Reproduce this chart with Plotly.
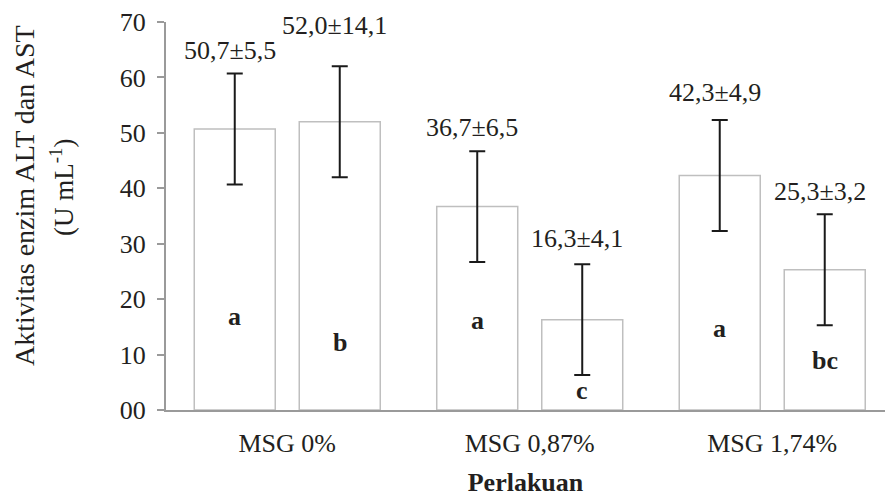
import plotly.graph_objects as go

# ---- data ----
categories = ["MSG 0%", "MSG 0,87%", "MSG 1,74%"]
alt_values = [50.7, 36.7, 42.3]
ast_values = [52.0, 16.3, 25.3]
alt_err = [10, 10, 10]
ast_err = [10, 10, 10]
alt_labels = ["50,7±5,5", "36,7±6,5", "42,3±4,9"]
ast_labels = ["52,0±14,1", "16,3±4,1", "25,3±3,2"]
alt_letters = ["a", "a", "a"]
ast_letters = ["b", "c", "bc"]
y_tickvals = [0, 10, 20, 30, 40, 50, 60, 70]
y_ticktext = ["00", "10", "20", "30", "40", "50", "60", "70"]

# ---- label placement (in data units) ----
alt_label_y = [64.9, 50.9, 57.2]
ast_label_y = [69.4, 31.0, 39.5]
alt_letter_y = [16.8, 16.2, 14.7]
ast_letter_y = [12.2, 3.6, 9.0]

FONT = "Liberation Serif, Times New Roman, serif"
FS = 26
BARGAP = 0.134
BARGROUPGAP = 0.2286
AXIS_COLOR = "#9a9a9a"
TEXT_COLOR = "#231f20"

xpos = list(range(len(categories)))
slot = (1 - BARGAP) / 2
off = slot / 2

fig = go.Figure()
for vals, errs, name in [(alt_values, alt_err, "ALT"), (ast_values, ast_err, "AST")]:
    fig.add_trace(go.Bar(
        x=xpos, y=vals, name=name,
        marker=dict(color="white", line=dict(color="#bfbfbf", width=1.5)),
        error_y=dict(type="data", array=errs, visible=True,
                     color="#1a1a1a", thickness=2, width=8),
        showlegend=False,
    ))

annotations = []
for k, (labels, ly, letters, lty) in enumerate([
        (alt_labels, alt_label_y, alt_letters, alt_letter_y),
        (ast_labels, ast_label_y, ast_letters, ast_letter_y)]):
    sign = -1 if k == 0 else 1
    for i in xpos:
        xc = i + sign * off
        annotations.append(dict(x=xc, y=ly[i], xref="x", yref="y", text=labels[i],
                                showarrow=False, xshift=-5,
                                font=dict(family=FONT, size=FS, color=TEXT_COLOR)))
        annotations.append(dict(x=xc, y=lty[i], xref="x", yref="y",
                                text="<b>" + letters[i] + "</b>", showarrow=False,
                                font=dict(family=FONT, size=FS, color=TEXT_COLOR)))

# y-axis title (two lines)
annotations.append(dict(x=0, y=0.5515, xref="paper", yref="paper", xshift=-142,
                        text="Aktivitas enzim ALT dan AST", textangle=-90,
                        showarrow=False, xanchor="center", yanchor="middle",
                        font=dict(family=FONT, size=28, color=TEXT_COLOR)))
annotations.append(dict(x=0, y=0.5722, xref="paper", yref="paper", xshift=-104,
                        text="(U mL<sup>-1</sup>)", textangle=-90,
                        showarrow=False, xanchor="center", yanchor="middle",
                        font=dict(family=FONT, size=27, color=TEXT_COLOR)))

fig.update_layout(
    width=885, height=498,
    margin=dict(l=166, r=0, t=22, b=88),
    paper_bgcolor="white", plot_bgcolor="white",
    barmode="group", bargap=BARGAP, bargroupgap=BARGROUPGAP,
    font=dict(family=FONT, size=FS, color=TEXT_COLOR),
    annotations=annotations,
    xaxis=dict(
        range=[-0.5, 2.465],
        tickmode="array", tickvals=xpos, ticktext=categories,
        showline=True, linecolor=AXIS_COLOR, linewidth=2,
        showgrid=False, zeroline=False, ticks="",
        ticklabelstandoff=9,
        title=dict(text="<b>Perlakuan</b>", standoff=16,
                   font=dict(family=FONT, size=FS, color=TEXT_COLOR)),
        tickfont=dict(family=FONT, size=FS, color=TEXT_COLOR),
    ),
    yaxis=dict(
        range=[0, 70],
        tickmode="array", tickvals=y_tickvals, ticktext=y_ticktext,
        showline=True, linecolor=AXIS_COLOR, linewidth=2,
        showgrid=False, zeroline=False,
        ticks="outside", ticklen=7, tickwidth=2, tickcolor=AXIS_COLOR,
        ticklabelstandoff=6,
        tickfont=dict(family=FONT, size=FS, color=TEXT_COLOR),
    ),
)

fig.write_html("out.html")
